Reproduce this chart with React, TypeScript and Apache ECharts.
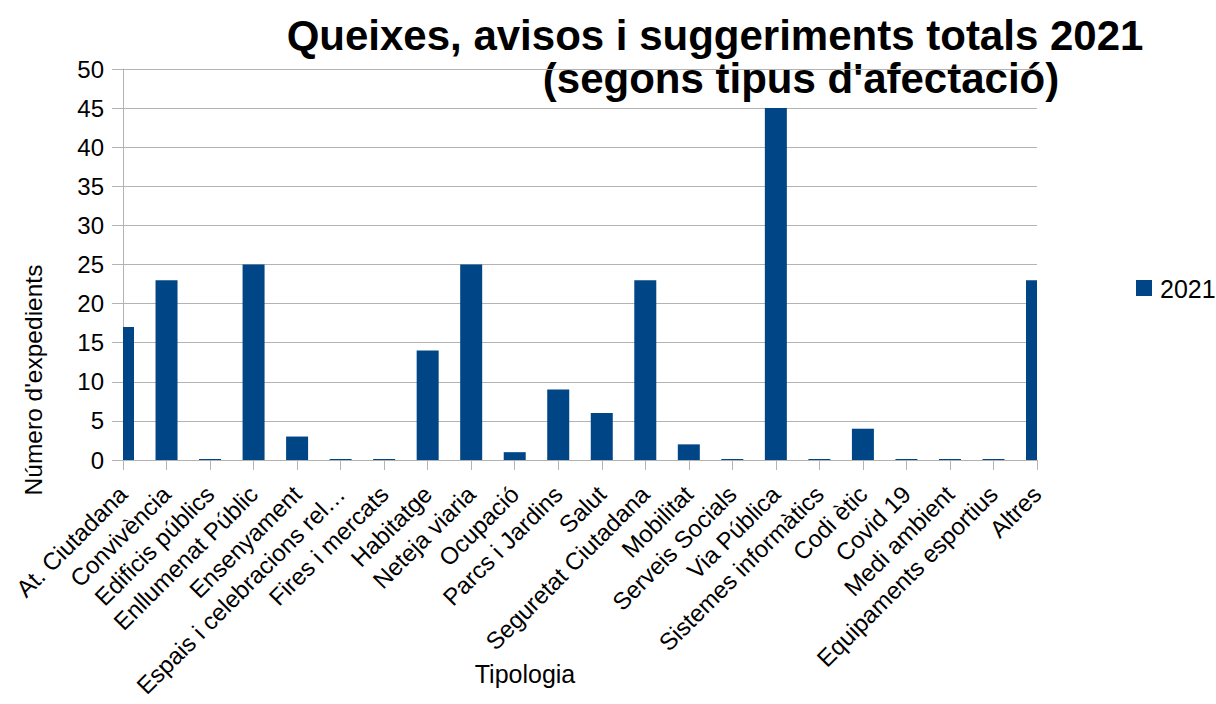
import React, { useEffect, useRef } from "react";
import * as echarts from "echarts";

const categories = [
  "At. Ciutadana",
  "Convivència",
  "Edificis públics",
  "Enllumenat Públic",
  "Ensenyament",
  "Espais i celebracions rel…",
  "Fires i mercats",
  "Habitatge",
  "Neteja viaria",
  "Ocupació",
  "Parcs i Jardins",
  "Salut",
  "Seguretat Ciutadana",
  "Mobilitat",
  "Serveis Socials",
  "Via Pública",
  "Sistemes informàtics",
  "Codi ètic",
  "Covid 19",
  "Medi ambient",
  "Equipaments esportius",
  "Altres",
];
const values2021 = [17, 23, 0, 25, 3, 0, 0, 14, 25, 1, 9, 6, 23, 2, 0, 45, 0, 4, 0, 0, 0, 23];
const seriesName = "2021";
const titleLine1 = "Queixes, avisos i suggeriments totals 2021";
const titleLine2 = "(segons tipus d'afectació)";
const yAxisName = "Número d'expedients";
const xAxisName = "Tipologia";

const FONT = "'Liberation Sans', Arial, sans-serif";
const GRID = "#b3b3b3";
const BAR = "#004586";

export default function App() {
  const ref = useRef<HTMLDivElement>(null);
  useEffect(() => {
    if (!ref.current) return;
    const chart = echarts.init(ref.current, undefined, { renderer: "svg" });
    chart.setOption({
      animation: false,
      textStyle: { fontFamily: FONT },
      grid: {
        left: 123,
        right: 179,
        top: 69,
        bottom: 244,
        containLabel: false,
        outerBoundsMode: "none",
        z: 5,
      },
      xAxis: {
        type: "category",
        data: categories,
        boundaryGap: false,
        z: 5,
        axisLine: { lineStyle: { color: GRID, width: 1 } },
        axisTick: { show: true, length: 10, lineStyle: { color: GRID } },
        axisLabel: {
          rotate: 45,
          interval: 0,
          margin: 30,
          fontSize: 24,
          color: "#000",
          fontFamily: FONT,
          verticalAlign: "middle",
        },
        splitLine: { show: false },
      },
      yAxis: {
        type: "value",
        min: 0,
        max: 50,
        interval: 5,
        z: 5,
        axisLine: { show: true, lineStyle: { color: GRID } },
        axisTick: { show: true, length: 11, lineStyle: { color: GRID } },
        axisLabel: { fontSize: 24, color: "#000", margin: 19, fontFamily: FONT },
        splitLine: { lineStyle: { color: GRID } },
      },
      legend: { show: false },
      series: [
        {
          name: seriesName,
          type: "custom",
          z: 6,
          data: values2021.map((v, i) => [i, v]),
          encode: { x: 0, y: 1 },
          renderItem: (params: any, api: any) => {
            const idx = api.value(0);
            const v = api.value(1);
            const top = api.coord([idx, v]);
            const base = api.coord([idx, 0]);
            const w = 22;
            let h = base[1] - top[1];
            if (h < 1) h = 1;
            const cs = params.coordSys;
            const rect = echarts.graphic.clipRectByRect(
              { x: top[0] - w / 2, y: base[1] - h, width: w, height: h },
              { x: cs.x, y: cs.y - 1, width: cs.width, height: cs.height + 2 }
            );
            return rect ? { type: "rect", shape: rect, style: { fill: BAR } } : null;
          },
        },
      ],
      graphic: [
        {
          type: "text",
          x: 715,
          y: 35,
          z: 0,
          style: {
            text: titleLine1,
            fontSize: 42,
            fontWeight: "bold",
            fontFamily: FONT,
            fill: "#000",
            align: "center",
            verticalAlign: "middle",
          },
        },
        {
          type: "text",
          x: 801,
          y: 78,
          z: 0,
          style: {
            text: titleLine2,
            fontSize: 42,
            fontWeight: "bold",
            fontFamily: FONT,
            fill: "#000",
            align: "center",
            verticalAlign: "middle",
          },
        },
        {
          type: "text",
          x: 33,
          y: 380,
          rotation: Math.PI / 2,
          style: {
            text: yAxisName,
            fontSize: 24.5,
            fontFamily: FONT,
            fill: "#000",
            align: "center",
            verticalAlign: "middle",
          },
        },
        {
          type: "text",
          x: 525,
          y: 674,
          style: {
            text: xAxisName,
            fontSize: 25,
            fontFamily: FONT,
            fill: "#000",
            align: "center",
            verticalAlign: "middle",
          },
        },
        {
          type: "rect",
          shape: { x: 1136, y: 280, width: 16, height: 16 },
          style: { fill: BAR },
        },
        {
          type: "text",
          x: 1160,
          y: 289,
          style: {
            text: seriesName,
            fontSize: 25,
            fontFamily: FONT,
            fill: "#000",
            align: "left",
            verticalAlign: "middle",
          },
        },
      ],
    });
    return () => chart.dispose();
  }, []);
  return <div ref={ref} style={{ width: 1216, height: 704, position: "absolute", left: 0, top: 0 }} />;
}
